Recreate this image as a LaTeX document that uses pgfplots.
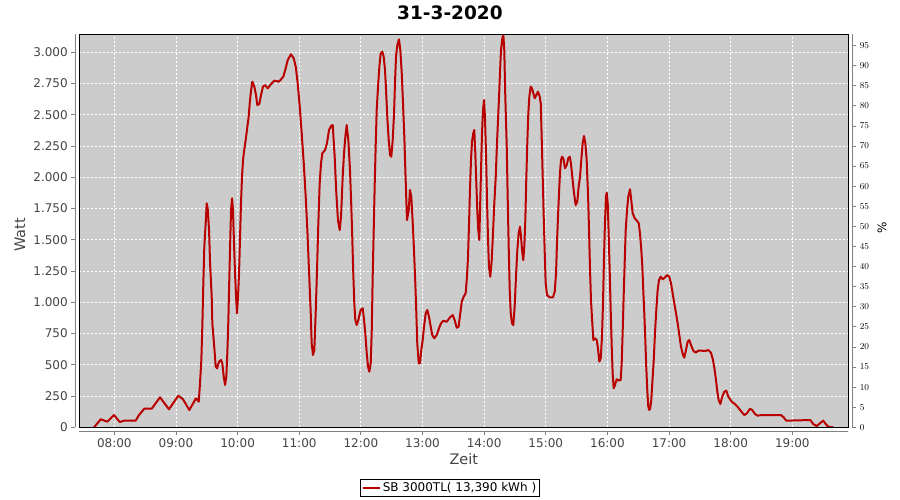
\documentclass[border=0pt]{standalone}
\usepackage{fontspec}
\setmainfont{DejaVu Sans}
\usepackage{pgfplots}
\pgfplotsset{compat=1.18}
\definecolor{plotbg}{RGB}{204,204,204}
\definecolor{linered}{RGB}{185,0,0}
\definecolor{axgray}{RGB}{128,128,128}
\definecolor{labgray}{RGB}{68,68,68}
\begin{document}
\begin{tikzpicture}
\useasboundingbox (0,0) rectangle (900pt,500pt);
\begin{axis}[
  at={(79.3pt,72.7pt)}, anchor=south west,
  scale only axis, width=769pt, height=393pt,
  xmin=445.9, xmax=1194.5, ymin=0, ymax=3144,
  axis background/.style={fill=plotbg},
  axis x line*=bottom, axis y line*=left,
  axis x line shift=4pt, axis y line shift=4pt,
  axis line style={axgray, line width=0.8pt, -},
  xtick={480,540,...,1140},
  xticklabels={08:00,09:00,10:00,11:00,12:00,13:00,14:00,15:00,16:00,17:00,18:00,19:00},
  ytick={0,250,...,3000},
  scaled y ticks=false,
  yticklabel style={/pgf/number format/1000 sep={.}},
  /pgf/number format/assume math mode=true,
  tick align=outside, major tick length=4pt,
  tick style={axgray, line width=0.8pt},
  tick label style={font=\fontsize{12}{14}\selectfont, text=labgray},
  grid=major,
  grid style={white, dash pattern=on 2pt off 2pt, line width=0.8pt},
  every axis title shift=0pt,
  title={31-3-2020},
  title style={font=\bfseries\fontsize{18.5}{20}\selectfont, at={(axis description cs:0.482,1.0364)}, anchor=base, yshift=0pt},
  xlabel={Zeit},
  xlabel style={font=\fontsize{14.5}{16}\selectfont, text=labgray, at={(axis description cs:0.5,-0.0814)}, anchor=center},
  ylabel={Watt},
  ylabel style={font=\fontsize{14.5}{16}\selectfont, text=labgray, at={(axis description cs:-0.0771,0.489)}, anchor=center},
  legend style={at={(axis description cs:0.482,-0.1545)}, anchor=center, draw=black, fill=white, font=\fontsize{12}{14}\selectfont, inner sep=1.5pt, line width=0.8pt},
  after end axis/.code={\draw[black, line width=0.9pt] (rel axis cs:0,0) rectangle (rel axis cs:1,1);},
]
\addplot[linered, line width=2pt, line join=round] coordinates {
(460.2,0) (466.8,64) (473.2,45) (479.7,98) (485.3,42) (489.4,53) (500.8,53) (504.0,98) (509.2,149) (516.4,149) (524.5,240) (533.2,144) (542.3,253) (546.9,224) (553.0,138) (559.5,232) (562.2,205) (563.4,352) (564.7,538) (565.7,818) (566.6,1138) (567.6,1445) (569.3,1685) (569.9,1792) (570.9,1750) (572.2,1578) (573.2,1312) (574.8,1045) (575.4,832) (577.0,672) (578.7,485) (580.0,472) (581.9,525) (583.9,538) (585.1,512) (586.5,405) (587.8,338) (589.0,405) (590.0,592) (591.0,858) (591.9,1178) (592.9,1512) (593.6,1738) (594.6,1832) (595.5,1738) (596.5,1472) (597.5,1232) (598.5,1045) (599.4,912) (600.4,1045) (601.4,1232) (602.4,1525) (603.3,1792) (604.3,2005) (605.3,2138) (606.2,2205) (607.2,2258) (608.5,2338) (609.5,2405) (610.8,2485) (611.8,2592) (612.8,2672) (614.3,2765) (616.3,2725) (617.9,2658) (619.2,2578) (621.1,2585) (622.8,2658) (624.7,2725) (626.7,2738) (629.3,2712) (631.8,2738) (635.7,2773) (640.3,2765) (644.5,2805) (646.8,2872) (648.8,2938) (652.0,2984) (654.6,2952) (656.6,2885) (658.5,2752) (660.5,2565) (662.4,2352) (664.4,2112) (666.3,1845) (667.9,1578) (669.5,1258) (671.2,912) (672.1,672) (673.4,578) (674.7,618) (676.0,912) (677.3,1258) (678.6,1632) (679.9,1952) (681.2,2112) (682.5,2192) (685.1,2218) (687.0,2272) (689.0,2378) (690.9,2410) (692.6,2418) (694.5,2165) (696.1,1872) (697.7,1658) (699.4,1578) (700.7,1685) (702.3,2005) (703.6,2192) (704.9,2325) (706.2,2418) (707.8,2298) (709.4,2058) (710.7,1765) (711.7,1498) (712.6,1232) (713.6,992) (714.6,858) (716.0,818) (717.5,858) (719.8,938) (721.8,952) (723.1,858) (724.3,752) (725.7,592) (727.0,485) (728.2,445) (729.6,512) (730.6,778) (731.5,1205) (732.5,1578) (733.5,1952) (734.4,2245) (735.4,2538) (736.7,2725) (738.0,2885) (739.3,2992) (740.9,3005) (742.2,2965) (743.5,2858) (744.5,2698) (745.7,2485) (747.1,2298) (748.4,2178) (749.6,2165) (751.0,2298) (752.3,2512) (753.2,2752) (754.2,2965) (755.5,3058) (757.1,3104) (758.4,3018) (759.8,2832) (761.0,2592) (762.3,2325) (763.6,1978) (764.9,1658) (766.6,1738) (767.8,1898) (769.1,1845) (770.5,1632) (771.7,1418) (773.0,1152) (774.0,912) (774.9,672) (776.3,512) (777.6,512) (778.8,618) (780.2,698) (781.5,805) (783.1,912) (784.7,938) (786.3,885) (788.0,805) (789.5,738) (791.5,712) (793.8,738) (796.1,792) (798.0,832) (800.2,852) (803.6,845) (806.8,880) (809.4,898) (811.3,858) (813.3,797) (815.2,805) (815.8,850) (816.8,912) (818.2,1005) (820.1,1045) (822.0,1072) (823.3,1205) (824.3,1365) (825.3,1632) (826.2,1898) (827.2,2138) (828.2,2285) (829.4,2352) (830.4,2378) (831.4,2192) (832.4,1952) (833.3,1738) (834.3,1578) (835.3,1498) (836.0,1738) (836.9,2032) (837.9,2352) (838.9,2538) (839.9,2618) (840.8,2485) (841.8,2192) (842.8,1818) (843.8,1498) (844.7,1285) (846.0,1205) (847.4,1338) (848.6,1552) (849.9,1792) (851.3,2005) (852.5,2272) (853.5,2458) (854.5,2645) (855.4,2832) (856.4,3018) (857.7,3112) (858.7,3138) (859.6,3018) (860.6,2645) (862.0,2245) (862.9,1845) (863.9,1445) (864.9,1098) (865.9,912) (867.1,832) (868.4,818) (869.7,965) (871.0,1205) (872.3,1418) (873.6,1552) (874.9,1605) (875.9,1525) (876.9,1418) (878.1,1338) (879.1,1445) (880.1,1658) (881.0,1978) (882.0,2272) (883.0,2512) (884.0,2645) (885.3,2725) (886.6,2712) (887.9,2672) (889.2,2632) (890.8,2658) (892.4,2685) (894.1,2645) (895.1,2592) (896.0,2325) (897.0,2005) (898.0,1685) (899.0,1392) (899.9,1152) (901.2,1058) (903.8,1040) (907.0,1040) (908.7,1085) (910.0,1232) (910.9,1472) (911.9,1685) (912.9,1872) (913.8,2032) (914.8,2138) (915.8,2165) (917.1,2152) (918.7,2072) (920.4,2098) (921.9,2152) (923.3,2165) (924.5,2112) (925.8,2005) (927.5,1872) (929.1,1778) (930.7,1805) (932.0,1925) (933.3,2000) (934.6,2138) (935.9,2272) (937.2,2330) (938.5,2272) (939.8,2138) (941.1,1872) (942.1,1578) (943.0,1285) (944.0,1018) (945.3,832) (946.3,698) (947.9,712) (949.6,698) (950.8,632) (952.1,525) (953.5,552) (954.7,725) (955.7,992) (956.7,1365) (957.6,1632) (958.6,1845) (959.3,1877) (960.3,1792) (961.2,1552) (962.2,1258) (963.2,938) (964.2,645) (965.1,432) (966.1,312) (967.4,338) (969.0,384) (971.0,374) (972.9,378) (973.9,512) (974.9,778) (975.8,1045) (976.8,1312) (977.8,1578) (979.1,1738) (980.3,1845) (982.0,1904) (983.2,1818) (984.6,1712) (986.6,1672) (988.5,1655) (990.5,1632) (991.7,1552) (993.0,1418) (994.0,1285) (994.9,1098) (995.9,912) (996.9,698) (997.8,485) (998.8,298) (999.8,165) (1000.8,138) (1001.7,152) (1002.7,218) (1003.7,352) (1005.1,538) (1006.3,752) (1007.6,938) (1008.9,1098) (1010.2,1178) (1011.9,1205) (1013.8,1184) (1016.1,1200) (1018.3,1218) (1020.2,1205) (1021.9,1152) (1023.5,1072) (1025.1,992) (1026.8,912) (1028.4,832) (1030.0,738) (1031.6,645) (1033.6,578) (1034.8,557) (1036.5,618) (1038.1,685) (1039.7,698) (1041.4,658) (1043.6,613) (1045.9,597) (1048.5,613) (1051.8,613) (1055.0,610) (1058.2,618) (1060.8,597) (1062.8,538) (1064.4,458) (1065.7,378) (1067.0,285) (1068.3,218) (1069.9,186) (1071.8,245) (1073.8,285) (1075.7,293) (1077.7,245) (1081.0,205) (1084.2,186) (1087.4,157) (1090.0,130) (1093.2,98) (1095.9,112) (1098.8,149) (1101.0,138) (1103.7,106) (1106.3,93) (1110.2,98) (1129.0,98) (1131.6,80) (1134.1,53) (1157.5,58) (1160.4,26) (1163.7,10) (1166.9,32) (1170.1,53) (1172.5,26) (1175.0,5) (1179.9,0)
};
\addlegendentry{SB 3000TL( 13,390 kWh )}
\end{axis}
\begin{axis}[
  at={(79.3pt,72.7pt)}, anchor=south west,
  scale only axis, width=769pt, height=393pt,
  xmin=445.9, xmax=1194.5, ymin=0, ymax=97.8,
  axis x line=none, axis y line*=right,
  axis y line shift=4pt,
  axis line style={axgray, line width=0.8pt, -},
  ytick={0,5,...,95},
  tick align=outside, major tick length=4pt,
  tick style={axgray, line width=0.8pt},
  tick label style={font=\fontsize{9.5}{11}\selectfont, text=black},
  ylabel={\%},
  ylabel style={font=\fontsize{12}{14}\selectfont, text=black, at={(axis description cs:1.0438,0.507)}, anchor=center},
]
\end{axis}
\end{tikzpicture}
\end{document}
